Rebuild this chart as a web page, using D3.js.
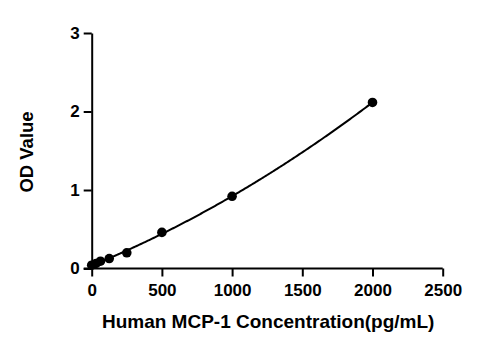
<!DOCTYPE html>
<html><head><meta charset="utf-8">
<script src="https://cdn.jsdelivr.net/npm/d3@7"></script>
<style>body{margin:0;background:#fff}svg{display:block}</style>
</head><body>
<svg id="c" width="497" height="350"></svg>
<script>
const concentrations = [0, 31.25, 62.5, 125, 250, 500, 1000, 2000];
const odValues = [0.042, 0.064, 0.093, 0.127, 0.20, 0.46, 0.92, 2.115];
const xTicks = [0, 500, 1000, 1500, 2000, 2500];
const yTicks = [0, 1, 2, 3];
const xTitle = "Human MCP-1 Concentration(pg/mL)";
const yTitle = "OD Value";

const svg = d3.select("#c");
const x = d3.scaleLinear().domain([0, 2500]).range([91.7, 442.7]);
const y = d3.scaleLinear().domain([0, 3]).range([268.5, 33]);
const font = "'Liberation Sans', Arial, sans-serif";

const xa = svg.append("g").attr("transform", `translate(0,${y(0)})`)
  .call(d3.axisBottom(x).tickValues(xTicks).tickFormat(d3.format("d")).tickSize(8).tickPadding(7).tickSizeOuter(0));
const ya = svg.append("g").attr("transform", `translate(${x(0)},0)`)
  .call(d3.axisLeft(y).tickValues(yTicks).tickFormat(d3.format("d")).tickSize(8).tickPadding(4).tickSizeOuter(0));
[xa, ya].forEach(a => {
  a.selectAll("path,line").attr("stroke", "#000").attr("stroke-width", 2);
  a.selectAll("text").attr("fill", "#000").style("font-family", font).style("font-weight", "bold").style("font-size", "17px");
});
xa.select("path.domain").attr("d", `M${x(0)-8},0H${x(2500)}`);

const pts = concentrations.map((c, i) => [c, odValues[i]]);

// least-squares quadratic fit of the standard curve
function quadFit(xs, ys) {
  const s = [0,0,0,0,0], t = [0,0,0];
  xs.forEach((xv, i) => {
    let p = 1;
    for (let k = 0; k < 5; k++) { s[k] += p; if (k < 3) t[k] += p * ys[i]; p *= xv; }
  });
  const A = [[s[0],s[1],s[2]],[s[1],s[2],s[3]],[s[2],s[3],s[4]]];
  const det = m => m[0][0]*(m[1][1]*m[2][2]-m[1][2]*m[2][1]) - m[0][1]*(m[1][0]*m[2][2]-m[1][2]*m[2][0]) + m[0][2]*(m[1][0]*m[2][1]-m[1][1]*m[2][0]);
  const D = det(A);
  return [0,1,2].map(j => det(A.map((row, r) => row.map((v, c) => c === j ? t[r] : v))) / D);
}
const coef = quadFit(concentrations, odValues);
const fitX = d3.range(0, 2000.01, 10);
const fitPts = fitX.map(c => [c, coef[0] + coef[1]*c + coef[2]*c*c]);

svg.append("path").datum(fitPts)
  .attr("fill", "none").attr("stroke", "#000").attr("stroke-width", 2)
  .attr("d", d3.line().x(d => x(d[0])).y(d => y(d[1])));

svg.append("g").selectAll("circle").data(pts).join("circle")
  .attr("cx", d => x(d[0])).attr("cy", d => y(d[1])).attr("r", 4.8).attr("fill", "#000");

svg.append("text").attr("x", (x(0) + x(2500)) / 2 + 1).attr("y", 328)
  .attr("text-anchor", "middle").style("font-family", font).style("font-weight", "bold").style("font-size", "19px")
  .text(xTitle);
svg.append("text").attr("transform", `translate(33,152) rotate(-90)`)
  .attr("text-anchor", "middle").style("font-family", font).style("font-weight", "bold").style("font-size", "18.5px")
  .text(yTitle);
</script>
</body></html>
